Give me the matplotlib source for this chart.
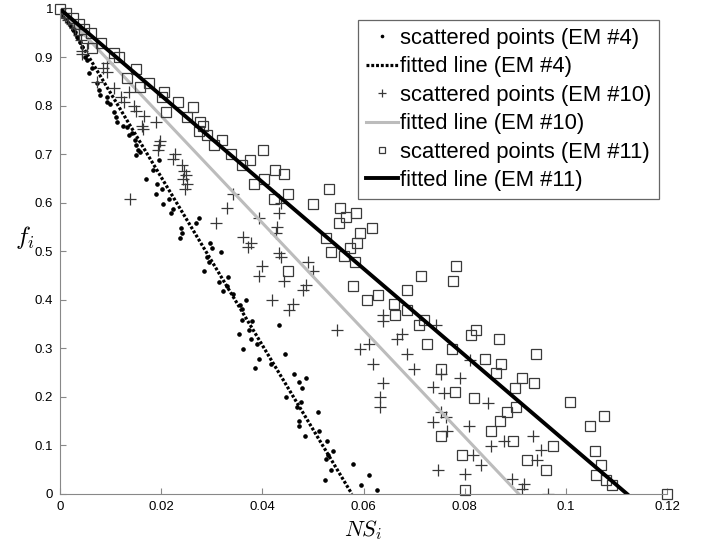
import matplotlib
matplotlib.use("Agg")
import matplotlib.pyplot as plt

# EM #4 scattered points (dots)
em4_x = [0.0006, 0.0012, 0.0016, 0.0022, 0.0026, 0.0030, 0.0034, 0.0040, 0.0043, 0.0049,
         0.0053, 0.0057, 0.0063, 0.0073, 0.0077, 0.0079, 0.0093, 0.0093, 0.0099, 0.0107,
         0.0111, 0.0113, 0.0125, 0.0132, 0.0136, 0.0142, 0.0148, 0.0150, 0.0154, 0.0150,
         0.0158, 0.0196, 0.0184, 0.0170, 0.0192, 0.0202, 0.0190, 0.0216, 0.0204, 0.0223,
         0.0219, 0.0269, 0.0275, 0.0239, 0.0241, 0.0237, 0.0297, 0.0301, 0.0318, 0.0291,
         0.0295, 0.0285, 0.0332, 0.0314, 0.0330, 0.0322, 0.0342, 0.0368, 0.0356, 0.0360,
         0.0360, 0.0380, 0.0374, 0.0354, 0.0378, 0.0389, 0.0362, 0.0393, 0.0386, 0.0417,
         0.0433, 0.0445, 0.0463, 0.0473, 0.0486, 0.0478, 0.0447, 0.0469, 0.0476, 0.0510,
         0.0473, 0.0473, 0.0484, 0.0512, 0.0528, 0.0540, 0.0530, 0.0526, 0.0536, 0.0524,
         0.0579, 0.0611, 0.0595, 0.0627]
em4_y = [0.988, 0.981, 0.973, 0.967, 0.959, 0.953, 0.942, 0.932, 0.922, 0.901,
         0.895, 0.868, 0.878, 0.847, 0.833, 0.823, 0.819, 0.808, 0.804, 0.788,
         0.777, 0.767, 0.759, 0.757, 0.740, 0.744, 0.730, 0.720, 0.709, 0.699,
         0.705, 0.689, 0.668, 0.649, 0.639, 0.629, 0.619, 0.608, 0.598, 0.588,
         0.579, 0.559, 0.569, 0.548, 0.538, 0.528, 0.518, 0.507, 0.499, 0.489,
         0.478, 0.460, 0.447, 0.437, 0.429, 0.419, 0.412, 0.400, 0.390, 0.381,
         0.359, 0.357, 0.338, 0.330, 0.320, 0.309, 0.299, 0.278, 0.260, 0.268,
         0.348, 0.289, 0.247, 0.231, 0.239, 0.219, 0.200, 0.179, 0.190, 0.169,
         0.151, 0.140, 0.120, 0.130, 0.109, 0.089, 0.080, 0.072, 0.049, 0.029,
         0.062, 0.039, 0.019, 0.008]

# EM #10 scattered points (pluses)
em10_x = [0.0006, 0.0010, 0.0016, 0.0024, 0.0030, 0.0038, 0.0042, 0.0055, 0.0043, 0.0043,
          0.0073, 0.0085, 0.0093, 0.0093, 0.0107, 0.0121, 0.0127, 0.0136, 0.0146, 0.0150,
          0.0166, 0.0190, 0.0162, 0.0164, 0.0198, 0.0196, 0.0194, 0.0227, 0.0223, 0.0241,
          0.0245, 0.0249, 0.0243, 0.0251, 0.0247, 0.0138, 0.0342, 0.0330, 0.0308, 0.0393,
          0.0433, 0.0437, 0.0429, 0.0427, 0.0362, 0.0378, 0.0372, 0.0433, 0.0437, 0.0399,
          0.0393, 0.0490, 0.0500, 0.0443, 0.0486, 0.0480, 0.0419, 0.0461, 0.0453, 0.0548,
          0.0639, 0.0639, 0.0666, 0.0676, 0.0743, 0.0611, 0.0593, 0.0619, 0.0686, 0.0700,
          0.0753, 0.0811, 0.0791, 0.0639, 0.0737, 0.0759, 0.0633, 0.0633, 0.0846, 0.0753,
          0.0763, 0.0737, 0.0765, 0.0809, 0.0935, 0.0878, 0.0852, 0.0951, 0.0943, 0.0817,
          0.0832, 0.0747, 0.0801, 0.0894, 0.0917, 0.0913, 0.0965]
em10_y = [0.992, 0.984, 0.977, 0.969, 0.961, 0.946, 0.936, 0.930, 0.913, 0.907,
          0.849, 0.878, 0.870, 0.889, 0.837, 0.819, 0.808, 0.829, 0.800, 0.790,
          0.779, 0.767, 0.759, 0.753, 0.728, 0.720, 0.709, 0.701, 0.691, 0.678,
          0.666, 0.658, 0.649, 0.639, 0.629, 0.608, 0.619, 0.590, 0.559, 0.569,
          0.579, 0.600, 0.551, 0.538, 0.530, 0.518, 0.509, 0.497, 0.489, 0.470,
          0.449, 0.478, 0.460, 0.439, 0.431, 0.421, 0.400, 0.392, 0.379, 0.338,
          0.369, 0.357, 0.320, 0.330, 0.348, 0.309, 0.299, 0.268, 0.289, 0.258,
          0.247, 0.276, 0.239, 0.229, 0.221, 0.208, 0.200, 0.179, 0.188, 0.169,
          0.159, 0.148, 0.130, 0.140, 0.120, 0.109, 0.099, 0.091, 0.070, 0.080,
          0.060, 0.049, 0.041, 0.031, 0.021, 0.010, 0.000]

# EM #11 scattered points (squares)
em11_x = [0.0000, 0.0012, 0.0026, 0.0038, 0.0047, 0.0061, 0.0063, 0.0081, 0.0107, 0.0117,
          0.0132, 0.0150, 0.0158, 0.0176, 0.0206, 0.0202, 0.0210, 0.0233, 0.0251, 0.0263,
          0.0277, 0.0283, 0.0275, 0.0291, 0.0320, 0.0304, 0.0338, 0.0376, 0.0360, 0.0401,
          0.0425, 0.0443, 0.0403, 0.0384, 0.0451, 0.0423, 0.0532, 0.0500, 0.0554, 0.0565,
          0.0552, 0.0585, 0.0617, 0.0593, 0.0526, 0.0587, 0.0573, 0.0536, 0.0561, 0.0583,
          0.0451, 0.0714, 0.0783, 0.0777, 0.0579, 0.0686, 0.0629, 0.0607, 0.0660, 0.0662,
          0.0686, 0.0720, 0.0710, 0.0822, 0.0813, 0.0726, 0.0775, 0.0868, 0.0941, 0.0840,
          0.0872, 0.0862, 0.0753, 0.0913, 0.0937, 0.0900, 0.0781, 0.0818, 0.1008, 0.0902,
          0.0884, 0.0870, 0.1076, 0.1048, 0.0852, 0.0753, 0.0896, 0.0975, 0.0795, 0.0923,
          0.1058, 0.1070, 0.0961, 0.1060, 0.1079, 0.1091, 0.0801, 0.1200]
em11_y = [1.000, 0.992, 0.981, 0.969, 0.959, 0.951, 0.920, 0.930, 0.909, 0.901,
          0.858, 0.876, 0.839, 0.847, 0.829, 0.819, 0.788, 0.808, 0.777, 0.798,
          0.767, 0.759, 0.748, 0.740, 0.730, 0.720, 0.701, 0.689, 0.678, 0.709,
          0.668, 0.660, 0.649, 0.639, 0.619, 0.608, 0.629, 0.598, 0.590, 0.571,
          0.559, 0.579, 0.548, 0.538, 0.528, 0.518, 0.507, 0.499, 0.491, 0.478,
          0.460, 0.449, 0.470, 0.439, 0.429, 0.421, 0.410, 0.400, 0.392, 0.369,
          0.379, 0.359, 0.348, 0.338, 0.328, 0.309, 0.299, 0.320, 0.289, 0.278,
          0.268, 0.249, 0.258, 0.239, 0.229, 0.219, 0.210, 0.198, 0.190, 0.179,
          0.169, 0.151, 0.161, 0.140, 0.130, 0.120, 0.109, 0.099, 0.080, 0.070,
          0.089, 0.060, 0.049, 0.039, 0.029, 0.019, 0.008, 0.000]

# fitted lines: start at (0, 1), reach f = 0 at these NS values
fit_ends = {"EM #4": 0.0577, "EM #10": 0.0907, "EM #11": 0.1121}

xticks = [0, 0.02, 0.04, 0.06, 0.08, 0.1, 0.12]
xticklabels = ["0", "0.02", "0.04", "0.06", "0.08", "0.1", "0.12"]
yticks = [0, 0.1, 0.2, 0.3, 0.4, 0.5, 0.6, 0.7, 0.8, 0.9, 1]
yticklabels = ["0", "0.1", "0.2", "0.3", "0.4", "0.5", "0.6", "0.7", "0.8", "0.9", "1"]


def main():
    plt.rcParams['font.family'] = ['Liberation Sans', 'DejaVu Sans']
    plt.rcParams['mathtext.fontset'] = 'cm'

    fig = plt.figure(figsize=(7.15, 5.42), dpi=100)
    ax = fig.add_axes([0.0839, 0.0886, 0.849, 0.8948])

    ax.plot(em4_x, em4_y, 'o', color='black', markersize=2.3, linestyle='none',
            label="scattered points (EM #4)")
    ax.plot([0, fit_ends["EM #4"]], [1, 0], color='black', linewidth=2.3,
            linestyle=(0, (0.9, 0.6)), label="fitted line (EM #4)")
    ax.plot(em10_x, em10_y, '+', color='#383838', markersize=9, markeredgewidth=0.9,
            linestyle='none', label="scattered points (EM #10)")
    ax.plot([0, fit_ends["EM #10"]], [1, 0], color='#bcbcbc', linewidth=2.2,
            label="fitted line (EM #10)")
    ax.plot(em11_x, em11_y, 's', markerfacecolor='none', markeredgecolor='#3a3a3a',
            markersize=7, markeredgewidth=0.9, linestyle='none', clip_on=False,
            label="scattered points (EM #11)")
    ax.plot([0, fit_ends["EM #11"]], [1, 0], color='black', linewidth=2.8,
            label="fitted line (EM #11)")

    ax.set_xlim(0, 0.12)
    ax.set_ylim(0, 1)
    ax.set_xticks(xticks)
    ax.set_xticklabels(xticklabels)
    ax.set_yticks(yticks)
    ax.set_yticklabels(yticklabels)
    ax.tick_params(direction='in', length=4.5, width=0.8, color='#888888',
                   labelsize=9.5, pad=5)

    ax.spines['top'].set_visible(False)
    ax.spines['right'].set_visible(False)
    ax.spines['left'].set_color('#888888')
    ax.spines['bottom'].set_color('#888888')

    ax.set_xlabel(r"$NS_i$", fontsize=16, labelpad=4)
    ax.set_ylabel(r"$f_i$", fontsize=18, rotation=0, labelpad=0)
    ax.yaxis.set_label_coords(-0.058, 0.5)

    leg = ax.legend(loc='upper right', bbox_to_anchor=(0.987, 0.977), borderaxespad=0,
                    fontsize=15.8, fancybox=False, framealpha=1, edgecolor='#666666',
                    borderpad=0.35, handlelength=1.45, handletextpad=0.1,
                    labelspacing=0.34, markerscale=0.7)
    leg.get_frame().set_linewidth(0.9)

    fig.savefig("out.png", dpi=100)


if __name__ == "__main__":
    main()
